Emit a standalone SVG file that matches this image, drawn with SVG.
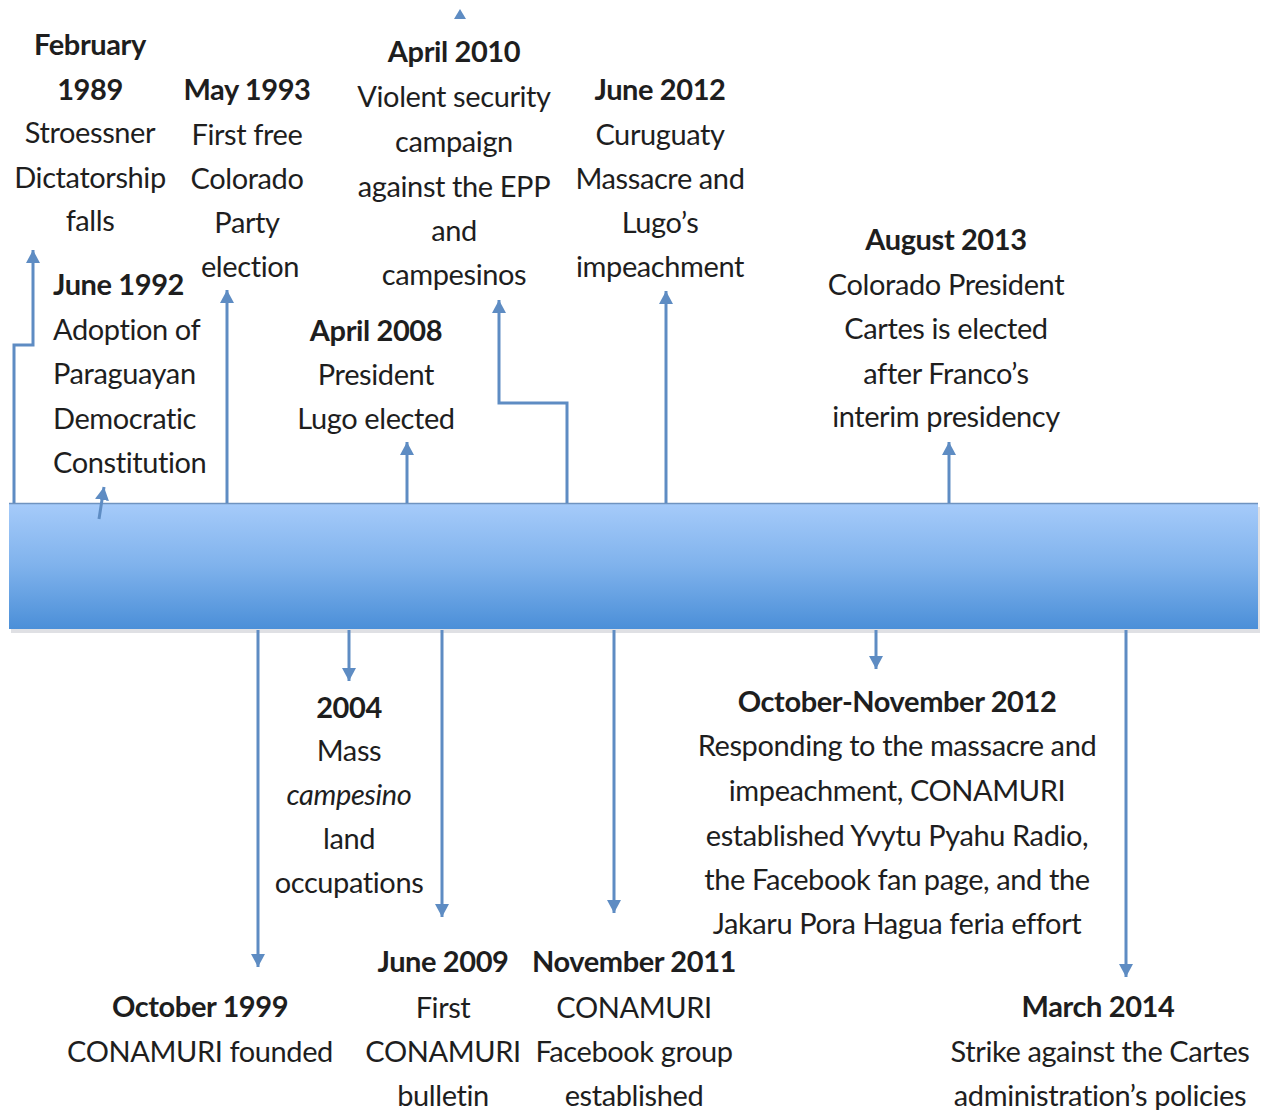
<svg xmlns="http://www.w3.org/2000/svg" width="1266" height="1110" viewBox="0 0 1266 1110">
<style>
text{font-family:Lato,"Open Sans","Liberation Sans",sans-serif;font-size:29px;letter-spacing:-0.4px;fill:#1e1e1e;text-anchor:middle}
.b{font-weight:bold}
.l{text-anchor:start}
.i{font-style:italic}
.c{fill:none;stroke:#5e8cc3;stroke-width:3;marker-end:url(#ah)}
</style>
<defs>
<linearGradient id="bar" x1="0" y1="0" x2="0" y2="1">
<stop offset="0" stop-color="#a6cbfa"/>
<stop offset="0.5" stop-color="#7fb2ec"/>
<stop offset="1" stop-color="#4b8fd8"/>
</linearGradient>
<marker id="ah" markerUnits="userSpaceOnUse" markerWidth="16" markerHeight="16" refX="13" refY="7" orient="auto">
<path d="M0,0 L13,7 L0,14 Z" fill="#5e8cc3"/>
</marker>
</defs>
<rect width="1266" height="1110" fill="#ffffff"/>
<g id="timeline-bar">
<rect x="11" y="507" width="1249" height="126" fill="#c9ccd2" opacity="0.6"/>
<rect x="9" y="503" width="1249" height="126" fill="url(#bar)"/>
<line x1="9" y1="503.5" x2="1258" y2="503.5" stroke="#6f93c0" stroke-width="1.5"/>
</g>
<g id="connectors">
<path class="c" d="M14,503 V345 H33 V250"/>
<path class="c" d="M99,519 L104,487"/>
<path class="c" d="M227,503 V290"/>
<path class="c" d="M407,503 V442"/>
<path class="c" d="M567,503 V403 H499 V300"/>
<path class="c" d="M666,503 V291"/>
<path class="c" d="M949,503 V442"/>
<path d="M454,19 L460,9 L466,19 Z" fill="#5e8cc3"/>
<path class="c" d="M258,630 V967"/>
<path class="c" d="M349,630 V681"/>
<path class="c" d="M442,630 V917"/>
<path class="c" d="M614,630 V913"/>
<path class="c" d="M876,630 V669"/>
<path class="c" d="M1126,630 V977"/>
</g>
<g id="feb-1989">
<text class="b" x="90" y="55">February</text>
<text class="b" x="90" y="100">1989</text>
<text x="90" y="143">Stroessner</text>
<text x="90" y="188">Dictatorship</text>
<text x="90" y="231">falls</text>
</g>
<g id="may-1993">
<text class="b" x="247" y="100">May 1993</text>
<text x="247" y="145">First free</text>
<text x="247" y="189">Colorado</text>
<text x="247" y="233">Party</text>
<text x="250" y="277">election</text>
</g>
<g id="june-1992">
<text class="b l" x="53" y="295">June 1992</text>
<text class="l" x="53" y="340">Adoption of</text>
<text class="l" x="53" y="384">Paraguayan</text>
<text class="l" x="53" y="429">Democratic</text>
<text class="l" x="53" y="473">Constitution</text>
</g>
<g id="april-2010">
<text class="b" x="454" y="62">April 2010</text>
<text x="454" y="107">Violent security</text>
<text x="454" y="152">campaign</text>
<text x="454" y="197">against the EPP</text>
<text x="454" y="241">and</text>
<text x="454" y="285">campesinos</text>
</g>
<g id="april-2008">
<text class="b" x="376" y="341">April 2008</text>
<text x="376" y="385">President</text>
<text x="376" y="429">Lugo elected</text>
</g>
<g id="june-2012">
<text class="b" x="660" y="100">June 2012</text>
<text x="660" y="145">Curuguaty</text>
<text x="660" y="189">Massacre and</text>
<text x="660" y="233">Lugo’s</text>
<text x="660" y="277">impeachment</text>
</g>
<g id="august-2013">
<text class="b" x="946" y="250">August 2013</text>
<text x="946" y="295">Colorado President</text>
<text x="946" y="339">Cartes is elected</text>
<text x="946" y="384">after Franco’s</text>
<text x="946" y="427">interim presidency</text>
</g>
<g id="y2004">
<text class="b" x="349" y="718">2004</text>
<text x="349" y="761">Mass</text>
<text class="i" x="349" y="805">campesino</text>
<text x="349" y="849">land</text>
<text x="349" y="893">occupations</text>
</g>
<g id="oct-nov-2012">
<text class="b" x="897" y="712">October-November 2012</text>
<text x="897" y="756">Responding to the massacre and</text>
<text x="897" y="801">impeachment, CONAMURI</text>
<text x="897" y="846">established Yvytu Pyahu Radio,</text>
<text x="897" y="890">the Facebook fan page, and the</text>
<text x="897" y="934">Jakaru Pora Hagua feria effort</text>
</g>
<g id="june-2009">
<text class="b" x="443" y="972">June 2009</text>
<text x="443" y="1018">First</text>
<text x="443" y="1062">CONAMURI</text>
<text x="443" y="1106">bulletin</text>
</g>
<g id="november-2011">
<text class="b" x="634" y="972">November 2011</text>
<text x="634" y="1018">CONAMURI</text>
<text x="634" y="1062">Facebook group</text>
<text x="634" y="1106">established</text>
</g>
<g id="october-1999">
<text class="b" x="200" y="1017">October 1999</text>
<text x="200" y="1062">CONAMURI founded</text>
</g>
<g id="march-2014">
<text class="b" x="1098" y="1017">March 2014</text>
<text x="1100" y="1062">Strike against the Cartes</text>
<text x="1100" y="1106">administration’s policies</text>
</g>
</svg>
